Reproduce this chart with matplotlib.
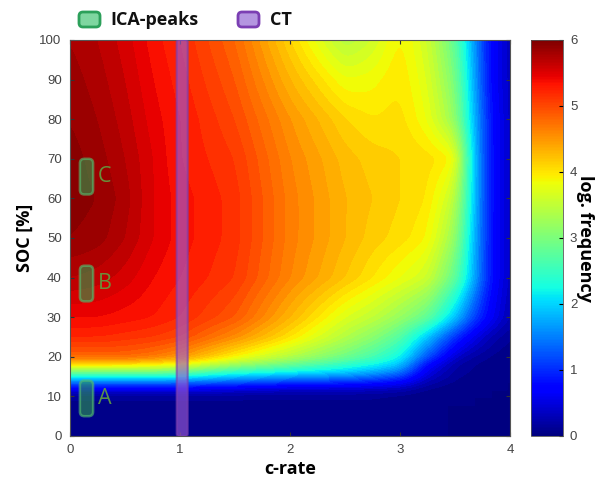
import numpy as np
import matplotlib
matplotlib.use("Agg")
import matplotlib.pyplot as plt
from matplotlib.patches import FancyBboxPatch
from matplotlib.transforms import IdentityTransform
from matplotlib.colors import Normalize
from matplotlib.cm import ScalarMappable

# ---------------- data ----------------
c_rate = [0, 0.25, 0.5, 0.75, 1.0, 1.5, 2.0, 2.5, 2.75, 3.0, 3.25, 3.5, 3.65, 3.8, 4.0]
soc = [0, 10, 12, 14, 16, 18, 20, 25, 30, 40, 50, 60, 70, 80, 90, 100]
log_freq = [
    [0.0, 0.0, 0.0, 0.0, 0.0, 0.0, 0.0, 0.0, 0.0, 0.0, 0.0, 0.0, 0.0, 0.0, 0.0],
    [0.1, 0.1, 0.1, 0.1, 0.1, 0.1, 0.1, 0.1, 0.1, 0.05, 0.0, 0.0, 0.0, 0.0, 0.0],
    [0.6, 0.6, 0.6, 0.6, 0.6, 0.5, 0.4, 0.4, 0.35, 0.3, 0.1, 0.0, 0.0, 0.0, 0.0],
    [1.6, 1.6, 1.6, 1.6, 1.6, 1.4, 1.2, 1.1, 1.0, 0.8, 0.3, 0.1, 0.0, 0.0, 0.0],
    [2.8, 2.8, 2.8, 2.8, 2.7, 2.3, 2.1, 1.9, 1.7, 1.4, 0.5, 0.15, 0.1, 0.0, 0.0],
    [4.0, 4.0, 4.0, 3.9, 3.8, 3.2, 2.8, 2.4, 2.2, 1.9, 0.7, 0.2, 0.1, 0.05, 0.0],
    [4.8, 4.8, 4.8, 4.7, 4.5, 3.9, 3.4, 2.9, 2.6, 2.2, 1.2, 0.4, 0.2, 0.1, 0.0],
    [5.2, 5.2, 5.15, 5.1, 5.0, 4.55, 4.0, 3.4, 3.1, 2.7, 1.9, 1.0, 0.6, 0.3, 0.1],
    [5.4, 5.4, 5.35, 5.3, 5.2, 4.9, 4.3, 3.7, 3.5, 3.2, 2.8, 1.9, 1.2, 0.7, 0.25],
    [5.7, 5.65, 5.55, 5.4, 5.3, 5.1, 4.6, 4.2, 4.0, 3.8, 3.6, 2.8, 1.9, 0.9, 0.3],
    [5.9, 5.85, 5.7, 5.5, 5.35, 5.15, 4.65, 4.3, 4.15, 4.05, 3.9, 3.2, 2.0, 0.9, 0.3],
    [5.95, 5.9, 5.75, 5.5, 5.35, 5.15, 4.65, 4.3, 4.2, 4.1, 4.0, 3.5, 2.1, 0.9, 0.3],
    [5.95, 5.85, 5.7, 5.5, 5.3, 5.1, 4.6, 4.25, 4.15, 4.1, 4.05, 3.9, 2.1, 0.9, 0.3],
    [5.9, 5.8, 5.65, 5.45, 5.3, 5.0, 4.5, 4.1, 4.0, 4.05, 3.8, 3.2, 2.0, 0.9, 0.3],
    [5.85, 5.75, 5.6, 5.4, 5.25, 4.9, 4.3, 3.8, 3.85, 4.0, 3.7, 3.0, 1.9, 0.8, 0.3],
    [5.8, 5.7, 5.55, 5.35, 5.2, 4.8, 4.1, 3.4, 3.6, 3.95, 3.6, 2.8, 1.8, 0.8, 0.3],
]

ica_labels = ["A", "B", "C"]
ica_soc_low = [5, 34, 61]
ica_soc_high = [14, 43, 70]
ica_crate_range = [0.09, 0.21]
ct_crate_range = [0.97, 1.07]

x_ticks = [0, 1, 2, 3, 4]
y_ticks = [0, 10, 20, 30, 40, 50, 60, 70, 80, 90, 100]
cbar_ticks = [0, 1, 2, 3, 4, 5, 6]

# ---------------- figure ----------------
W, H = 608, 487
fig = plt.figure(figsize=(W / 100, H / 100), dpi=100)
plt.rcParams['font.family'] = ['Liberation Sans', 'DejaVu Sans']

def fx(px):
    return px / W

def fy(py):
    return 1 - py / H

ax_l, ax_r, ax_t, ax_b = 70, 510, 40, 436
ax = fig.add_axes([fx(ax_l), fy(ax_b), fx(ax_r - ax_l), (ax_b - ax_t) / H])

# smooth rendering of the gridded field: linear resampling + light gaussian smoothing
Z = np.array(log_freq, dtype=float)
cf = np.linspace(0, 4, 401)
sf = np.linspace(0, 100, 501)
Zc = np.array([np.interp(cf, c_rate, row) for row in Z])
Zf = np.array([np.interp(sf, soc, Zc[:, j]) for j in range(Zc.shape[1])]).T

def gauss_kernel(sig):
    r = int(3 * sig)
    k = np.exp(-0.5 * (np.arange(-r, r + 1) / sig) ** 2)
    return k / k.sum(), r

def smooth_axis(A, sig, axis):
    k, r = gauss_kernel(sig)
    pad = [(0, 0), (0, 0)]
    pad[axis] = (r, r)
    Ap = np.pad(A, pad, mode='edge')
    return np.apply_along_axis(lambda v: np.convolve(v, k, mode='valid'), axis, Ap)

Zf = smooth_axis(Zf, 6, 1)
Zf = smooth_axis(Zf, 4, 0)

CF, SF = np.meshgrid(cf, sf)
levels = np.linspace(0, 6, 61)
ax.contourf(CF, SF, Zf, levels=levels, cmap='jet', vmin=0, vmax=6, extend='both')
ax.set_xlim(0, 4)
ax.set_ylim(0, 100)
ax.set_xticks(x_ticks)
ax.set_yticks(y_ticks)
ax.tick_params(direction='in', length=3, width=0.8, top=True, right=True,
               labelsize=9.5, labelcolor='#444444', color='#333333', pad=6)
for s in ax.spines.values():
    s.set_linewidth(0.8)
    s.set_color('#555555')

ax.set_xlabel('c-rate', fontsize=13, fontweight='bold', family=['Open Sans', 'DejaVu Sans'], labelpad=3)
ax.set_ylabel('SOC [%]', fontsize=13, fontweight='bold', family=['Open Sans', 'DejaVu Sans'], labelpad=4)

px_per_x = (ax_r - ax_l) / 4.0
px_per_y = (ax_b - ax_t) / 100.0
masp = px_per_x / px_per_y

# CT bar
ct = FancyBboxPatch((ct_crate_range[0], 0), ct_crate_range[1] - ct_crate_range[0], 100,
                    boxstyle="round,pad=0,rounding_size=0.02", mutation_aspect=masp,
                    facecolor='#9b59d0', alpha=0.65, edgecolor='#7b3fb0', linewidth=1.5,
                    clip_on=True, zorder=3)
ax.add_patch(ct)

# ICA peaks
for lab, lo, hi in zip(ica_labels, ica_soc_low, ica_soc_high):
    p = FancyBboxPatch((ica_crate_range[0], lo), ica_crate_range[1] - ica_crate_range[0], hi - lo,
                       boxstyle="round,pad=0,rounding_size=0.04", mutation_aspect=masp,
                       facecolor='#2e9a4e', alpha=0.6, edgecolor='#55c070', linewidth=1.8, zorder=4)
    ax.add_patch(p)
    ax.text(ica_crate_range[1] + 0.04, (lo + hi) / 2, lab, fontsize=15.5, color='#62a040',
            alpha=0.9, va='center', ha='left', family=['Open Sans', 'DejaVu Sans'], zorder=5)

# colorbar
cb_l, cb_r = 531, 563
cax = fig.add_axes([fx(cb_l), fy(ax_b), fx(cb_r - cb_l), (ax_b - ax_t) / H])
sm = ScalarMappable(norm=Normalize(0, 6), cmap='jet')
cb = fig.colorbar(sm, cax=cax, ticks=cbar_ticks)
cb.outline.set_linewidth(0.6)
cb.outline.set_edgecolor('#555555')
cax.tick_params(direction='in', length=3, width=0.8, labelsize=9.5, labelcolor='#444444', pad=5)
cb.set_label('log. frequency', rotation=270, fontsize=13, fontweight='bold',
             family=['Open Sans', 'DejaVu Sans'], labelpad=12)

# legend at top (pixel coordinates)
def px_box(x0, y0, w, h, fc, ec):
    b = FancyBboxPatch((x0, H - y0 - h), w, h, boxstyle="round,pad=0,rounding_size=4",
                       facecolor=fc, edgecolor=ec, linewidth=2, transform=IdentityTransform())
    fig.add_artist(b)

px_box(79, 12, 21, 15, '#7fd6a0', '#2ca05a')
fig.text(fx(110), fy(20), 'ICA-peaks', fontsize=13, fontweight='bold', va='center', ha='left',
         family=['Open Sans', 'DejaVu Sans'], color='#111111')
px_box(238, 12, 21, 15, '#b496e0', '#7b3fb3')
fig.text(fx(270), fy(20), 'CT', fontsize=13, fontweight='bold', va='center', ha='left',
         family=['Open Sans', 'DejaVu Sans'], color='#111111')

fig.savefig('out.png', dpi=100)
